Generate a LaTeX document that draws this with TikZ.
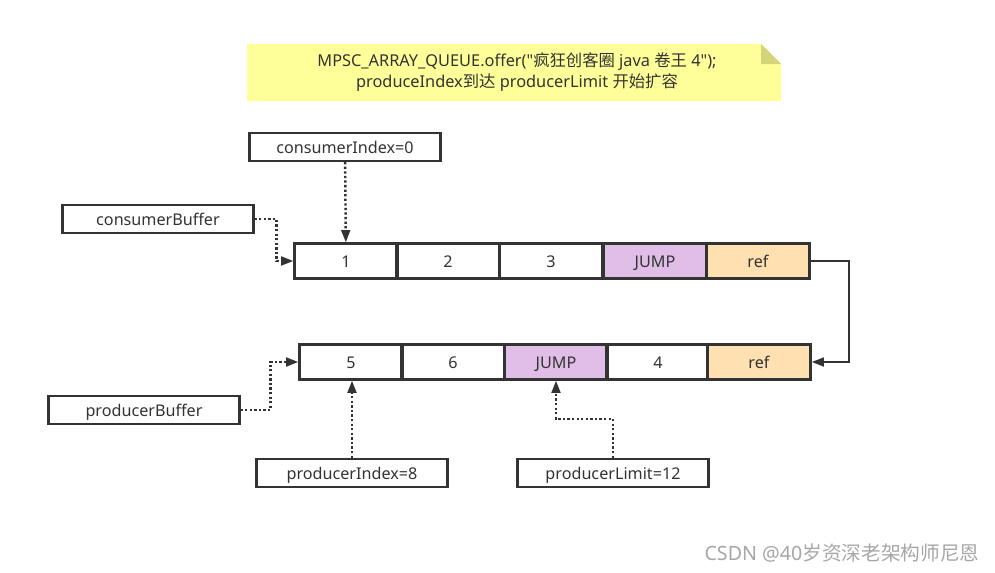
\documentclass[tikz,border=0pt]{standalone}
\usepackage{fontspec}
\setmainfont{Noto Sans}[Ligatures=TeXOff]
\newfontfamily\cjk{Noto Sans CJK SC}
\usetikzlibrary{arrows.meta}
\definecolor{notefill}{HTML}{FFFF99}
\definecolor{notefold}{HTML}{D4D47A}
\definecolor{jumpfill}{HTML}{E1BEE7}
\definecolor{reffill}{HTML}{FFE0B0}
\definecolor{inkgray}{HTML}{333333}
\tikzset{
	cell/.style={draw=inkgray,line width=1.3pt,minimum width=103*0.02cm,minimum height=35*0.02cm,inner sep=0pt,text height=1.6ex,text depth=0.3ex,text=inkgray,font=\fontsize{9.2}{11}\selectfont},
	jumpcell/.style={cell,fill=jumpfill},
	refcell/.style={cell,fill=reffill},
	labelbox/.style={cell,minimum width=191*0.02cm,minimum height=28*0.02cm},
	pointer/.style={draw=inkgray,line width=1.4pt,dash pattern=on 1.3pt off 1.3pt,-{Triangle[length=7pt,width=5pt]}},
	link/.style={draw=inkgray,line width=1.3pt,-{Triangle[length=7pt,width=5pt]}}
}
\begin{document}
\begin{tikzpicture}[x=0.02cm,y=-0.02cm]
\useasboundingbox (0,0) rectangle (995,572);

% note
\fill[notefill](247,44)--(761,44)--(781,64)--(781,101)--(247,101)--cycle;
\fill[notefold](761,44)--(781,64)--(761,64)--cycle;
\node[text=inkgray,font=\fontsize{9.3}{12}\selectfont,align=center](note) at (517,72){MPSC\_ARRAY\_QUEUE.offer("{\cjk 疯狂创客圈} java {\cjk 卷王} 4");\\produceIndex{\cjk 到达} producerLimit {\cjk 开始扩容}};

% consumer side
\node[labelbox](cindex) at (345,147){consumerIndex=0};
\node[labelbox](cbuffer) at (158,219){consumerBuffer};

\node[cell](c1) at (346,261){1};
\node[cell](c2) at (448,261){2};
\node[cell](c3) at (551,261){3};
\node[jumpcell](cjump) at (655,261){JUMP};
\node[refcell](cref) at (758,261){ref};

\draw[pointer](cindex)--(c1);
\draw[pointer](cbuffer.east)--++(22,0)|-(c1.west);

% producer side
\node[cell](p5) at (351,362){5};
\node[cell](p6) at (453,362){6};
\node[jumpcell](pjump) at (556,362){JUMP};
\node[cell](p4) at (658,362){4};
\node[refcell](pref) at (759,362){ref};

\draw[link](cref.east)--++(38,0)|-(pref.east);

\node[labelbox](pbuffer) at (144,410){producerBuffer};
\node[labelbox](pindex) at (352,473){producerIndex=8};
\node[labelbox](plimit) at (613,473){producerLimit=12};

\draw[pointer](pbuffer.east)--++(30,0)|-(p5.west);
\draw[pointer](pindex.north)--(pindex.north|-p5.south);
\draw[pointer](plimit.north)--++(0,-39)-|(pjump.south);

\node[text=black!35,font=\fontsize{11.2}{13}\selectfont](mark) at (842,553){CSDN @40{\cjk 岁资深老架构师尼恩}};
\end{tikzpicture}
\end{document}
